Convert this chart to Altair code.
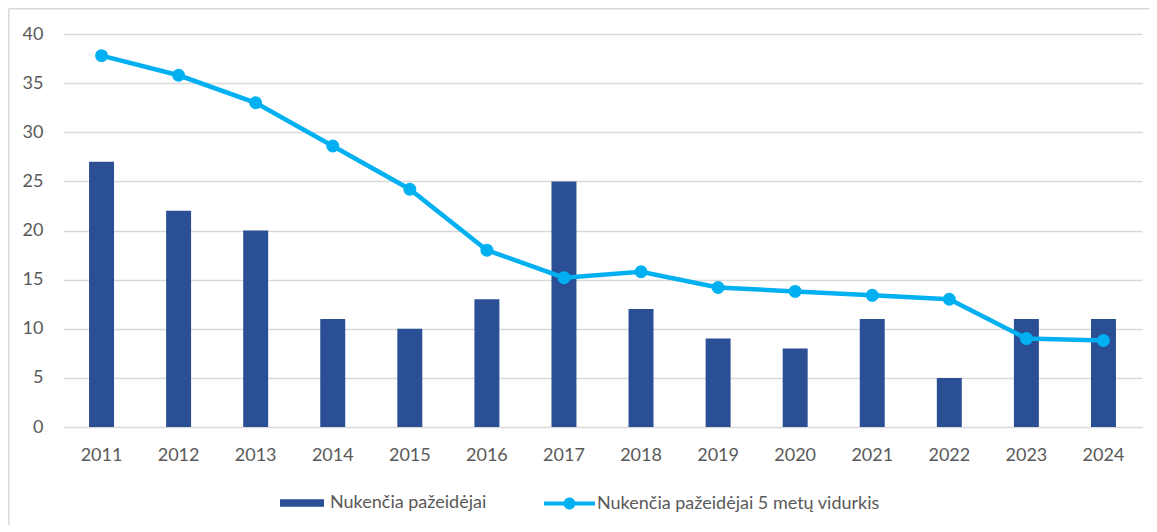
import altair as alt
import pandas as pd

years = ["2011", "2012", "2013", "2014", "2015", "2016", "2017",
         "2018", "2019", "2020", "2021", "2022", "2023", "2024"]
injured = [27, 22, 20, 11, 10, 13, 25, 12, 9, 8, 11, 5, 11, 11]
avg5 = [37.8, 35.8, 33.0, 28.6, 24.2, 18.0, 15.2, 15.8, 14.2, 13.8, 13.4, 13.0, 9.0, 8.8]

bar_name = "Nukenčia pažeidėjai"
line_name = "Nukenčia pažeidėjai 5 metų vidurkis"
bar_color = "#2B4F94"
line_color = "#00B0F0"
text_color = "#595959"
grid_color = "#D9D9D9"
font = "Lato"

df = pd.DataFrame({"year": years, "injured": injured, "avg": avg5})
df["s_bar"] = bar_name
df["s_line"] = line_name

xenc = alt.X(
    "year:N",
    sort=years,
    title=None,
    scale=alt.Scale(paddingInner=0.676, paddingOuter=0.338),
    axis=alt.Axis(labelAngle=0, ticks=False, domain=False, grid=False,
                  labelPadding=19, labelFontSize=18, labelColor=text_color,
                  labelFont=font),
)
yscale = alt.Scale(domain=[0, 40])
yaxis = alt.Axis(values=[0, 5, 10, 15, 20, 25, 30, 35, 40], ticks=False,
                 domain=False, labelPadding=20, labelFontSize=18,
                 labelColor=text_color, labelFont=font, gridColor=grid_color,
                 gridWidth=1.5)

bar_path = "M-1,-0.17H1V0.17H-1Z"
line_path = ("M-1,-0.08H1V0.08H-1Z "
             "M-0.235,0A0.235,0.235 0 1,1 0.235,0A0.235,0.235 0 1,1 -0.235,0Z")

bars = alt.Chart(df).mark_bar().encode(
    x=xenc,
    y=alt.Y("injured:Q", scale=yscale, axis=yaxis, title=None),
    fill=alt.Fill(
        "s_bar:N",
        scale=alt.Scale(domain=[bar_name], range=[bar_color]),
        legend=alt.Legend(title=None, orient="none", legendX=217, legendY=447,
                          symbolType=bar_path, symbolSize=44 * 44,
                          symbolStrokeWidth=0, labelOffset=6, padding=0,
                          labelFontSize=18, labelColor=text_color,
                          labelFont=font, labelLimit=400),
    ),
)

line = alt.Chart(df).mark_line(
    strokeWidth=4.5,
    point=alt.OverlayMarkDef(filled=True, fill=line_color, size=120),
).encode(
    x=xenc,
    y=alt.Y("avg:Q", scale=yscale, axis=yaxis, title=None),
    stroke=alt.Stroke(
        "s_line:N",
        scale=alt.Scale(domain=[line_name], range=[line_color]),
        legend=alt.Legend(title=None, orient="none", legendX=481, legendY=444,
                          symbolType=line_path, symbolSize=51 * 51,
                          symbolStrokeWidth=0, symbolFillColor=line_color,
                          labelOffset=2, padding=0,
                          labelFontSize=18, labelColor=text_color,
                          labelFont=font, labelLimit=500),
    ),
)

one = pd.DataFrame({"a": [0]})
border_top = alt.Chart(one).mark_rule(stroke=grid_color, strokeWidth=1.5).encode(
    x=alt.value(-54.2), x2=alt.value(1100), y=alt.value(-25.2)
)
border_left = alt.Chart(one).mark_rule(stroke=grid_color, strokeWidth=1.5).encode(
    x=alt.value(-54.2), y=alt.value(-25.2), y2=alt.value(500)
)

chart = alt.layer(border_top, border_left, bars, line).resolve_scale(
    fill="independent", stroke="independent"
).properties(
    width=1079,
    height=393,
    autosize=alt.AutoSizeParams(type="none"),
    padding={"left": 55, "top": 26, "right": 7, "bottom": 98},
).configure_view(stroke=None)

chart.save("out.html", embed_options={"renderer": "svg", "actions": False})
